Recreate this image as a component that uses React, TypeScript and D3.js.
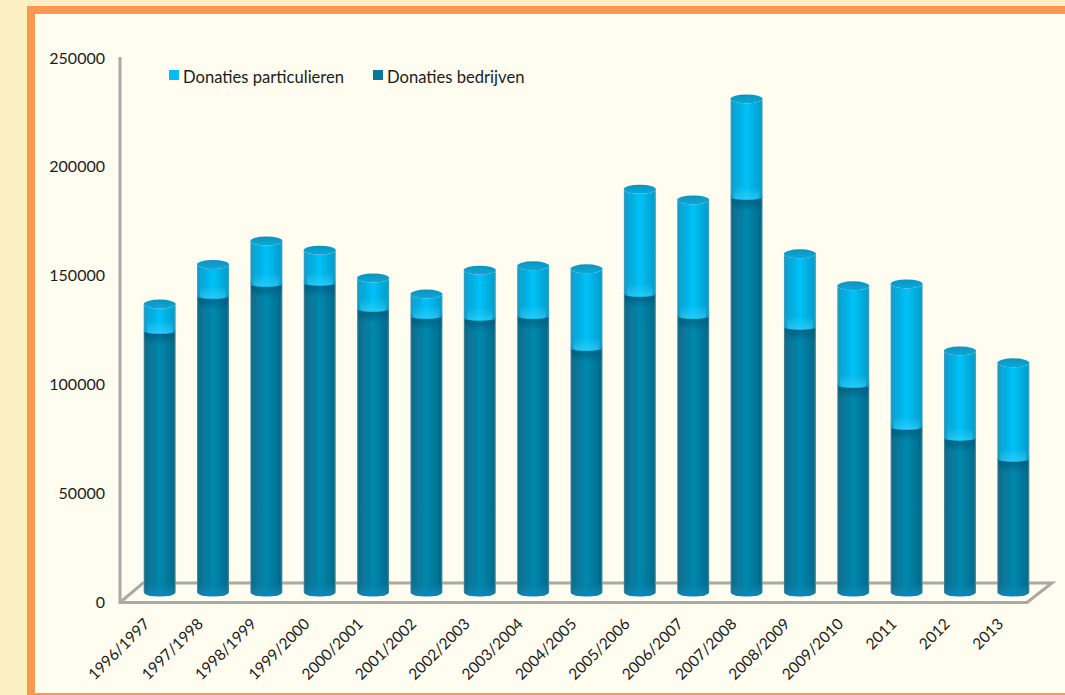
import { useEffect, useRef } from "react";
import * as d3 from "d3";

const categories = [
	"1996/1997", "1997/1998", "1998/1999", "1999/2000", "2000/2001", "2001/2002",
	"2002/2003", "2003/2004", "2004/2005", "2005/2006", "2006/2007", "2007/2008",
	"2008/2009", "2009/2010", "2011", "2012", "2013",
];
const bedrijven = [
	119000, 135100, 140600, 141100, 129100, 125900, 125000, 125900, 111200,
	136000, 125900, 180600, 120900, 94200, 74900, 69900, 60200,
];
const particulieren = [
	13300, 15400, 20700, 16000, 15200, 11000, 22900, 24000, 37300,
	49100, 54300, 46000, 34500, 46500, 66700, 40900, 45100,
];
const yTicks = [0, 50000, 100000, 150000, 200000, 250000];
const legendItems = [
	{ label: "Donaties particulieren", color: "#00bdf2" },
	{ label: "Donaties bedrijven", color: "#04789f" },
];

const FONT = "Lato, 'Open Sans', sans-serif";

const App = () => {
	const svgRef = useRef<SVGSVGElement>(null);

	useEffect(() => {
		if (!svgRef.current) return;
		document.body.style.margin = "0";

		const svg = d3.select(svgRef.current);
		svg.selectAll("*").remove();

		// Page, frame and panel
		svg.append("rect").attr("width", 1065).attr("height", 695).attr("fill", "#fcefc2");
		svg.append("rect").attr("x", 27).attr("y", 6).attr("width", 1038).attr("height", 689).attr("fill", "#f9994f");
		svg.append("rect").attr("x", 35).attr("y", 14).attr("width", 1030).attr("height", 679).attr("fill", "#fffcf0");

		// Gradients for the cylinders
		const defs = svg.append("defs");
		const addGradient = (id: string, stops: [number, string, number?][], vertical = false) => {
			const grad = defs.append("linearGradient").attr("id", id);
			if (vertical) grad.attr("x2", 0).attr("y2", 1);
			stops.forEach(([offset, color, opacity]) =>
				grad.append("stop")
					.attr("offset", `${offset}%`)
					.attr("stop-color", color)
					.attr("stop-opacity", opacity ?? 1)
			);
		};
		addGradient("darkBar", [[0, "#5f8c99"], [5, "#0a6c8c"], [50, "#0488ae"], [94, "#066c8c"], [100, "#5f8c99"]]);
		addGradient("lightBar", [[0, "#5a9db2"], [5, "#0a9fce"], [50, "#00c2f7"], [94, "#069fce"], [100, "#5a9db2"]]);
		addGradient("capFill", [[0, "#0c93bf"], [100, "#10a8d6"]], true);
		addGradient("darkBand", [[0, "#035a7a", 0.9], [100, "#035a7a", 0]], true);
		addGradient("footBand", [[0, "#0a86b6", 0], [100, "#0a86b6", 1]], true);
		addGradient("glowBand", [[0, "#3fd4ff", 0], [100, "#3fd4ff", 0.55]], true);
		defs.append("filter")
			.attr("id", "soft")
			.append("feGaussianBlur")
			.attr("stdDeviation", 0.5);

		const x = d3.scaleBand<string>().domain(categories).range([133, 1040]);
		const y = d3.scaleLinear().domain([0, 250000]).range([592, 48]);
		// The axis sits on the front of the 3D floor, the bars further back
		const yAxis = d3.scaleLinear().domain([0, 250000]).range([602, 58]);

		// Floor and value axis
		const axisColor = "#a9a9a5";
		const axisLine = d3.line();
		svg.append("path")
			.attr("d", axisLine([[120, 57], [120, 602.5], [1027, 602.5], [1052, 583], [143, 583], [120, 602.5]]))
			.attr("fill", "none")
			.attr("stroke", axisColor)
			.attr("stroke-width", 3)
			.attr("filter", "url(#soft)");

		svg.selectAll(".ytick")
			.data(yTicks)
			.enter()
			.append("text")
			.attr("class", "ytick")
			.attr("x", 105)
			.attr("y", (d) => yAxis(d))
			.attr("dy", "0.35em")
			.attr("text-anchor", "end")
			.attr("font-family", FONT)
			.attr("font-size", 16)
			.attr("fill", "#1c1c1c")
			.text((d) => d);

		const barW = 32;
		const ry = 4.5;
		const segment = (cx: number, top: number, bottom: number, bottomRy = ry) => {
			const l = cx - barW / 2;
			const r = cx + barW / 2;
			return `M${l},${top}A${barW / 2},${ry} 0 0 0 ${r},${top}L${r},${bottom}A${barW / 2},${bottomRy} 0 0 1 ${l},${bottom}Z`;
		};

		categories.forEach((cat, i) => {
			const cx = (x(cat) as number) + x.bandwidth() / 2;
			const y0 = y(0);
			const y1 = y(bedrijven[i]);
			const y2 = y(bedrijven[i] + particulieren[i]);
			const g = svg.append("g").attr("filter", "url(#soft)");
			const left = cx - barW / 2;

			// Dark lower part with its shaded top and brighter foot
			g.append("path").attr("d", segment(cx, y1 - 4, y0)).attr("fill", "url(#darkBar)");
			g.append("rect").attr("x", left + 1).attr("y", y1 - 2).attr("width", barW - 2).attr("height", 14).attr("fill", "url(#darkBand)");
			g.append("rect").attr("x", left + 1).attr("y", y0 - 8).attr("width", barW - 2).attr("height", 12).attr("rx", 6).attr("fill", "url(#footBand)");

			// Light upper part, bowing over the dark one, with a lit lower end and cap
			g.append("path").attr("d", segment(cx, y2, y1 - 2, 3)).attr("fill", "url(#lightBar)");
			g.append("rect").attr("x", left + 3).attr("y", y1 - 12).attr("width", barW - 6).attr("height", 12).attr("rx", 4).attr("fill", "url(#glowBand)");
			g.append("ellipse").attr("cx", cx).attr("cy", y2).attr("rx", barW / 2).attr("ry", ry).attr("fill", "url(#capFill)");
		});

		// Category labels, rotated
		svg.selectAll(".xlabel")
			.data(categories)
			.enter()
			.append("text")
			.attr("class", "xlabel")
			.attr("text-anchor", "end")
			.attr("font-family", FONT)
			.attr("font-size", 15.5)
			.attr("fill", "#1c1c1c")
			.attr("transform", (d) => `translate(${(x(d) as number) + x.bandwidth() / 2 - 9},625) rotate(-45)`)
			.text((d) => d);

		// Legend
		const legendX = [169, 373];
		legendItems.forEach((item, i) => {
			svg.append("rect").attr("x", legendX[i]).attr("y", 70).attr("width", 10).attr("height", 10).attr("fill", item.color);
			svg.append("text")
				.attr("x", legendX[i] + 14)
				.attr("y", 77)
				.attr("dy", "0.35em")
				.attr("font-family", FONT)
				.attr("font-size", 16.6)
				.attr("fill", "#1c1c1c")
				.text(item.label);
		});
	}, []);

	return <svg ref={svgRef} width={1065} height={695} style={{ display: "block" }} />;
};

export default App;
